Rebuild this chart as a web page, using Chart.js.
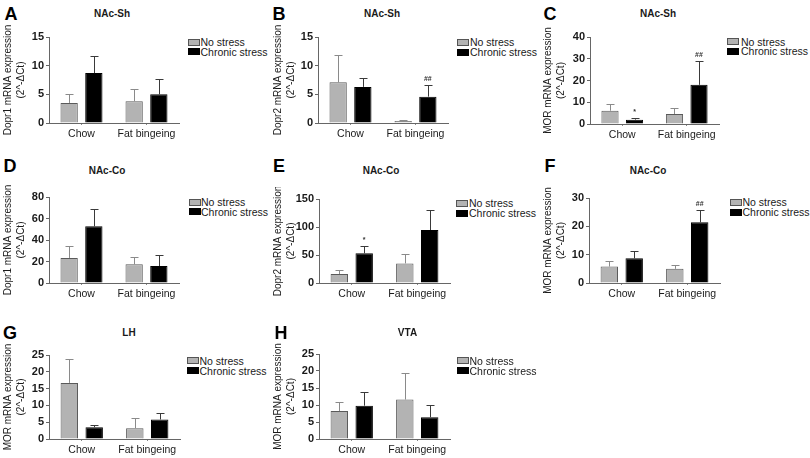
<!DOCTYPE html>
<html>
<head>
<meta charset="utf-8">
<script src="https://cdn.jsdelivr.net/npm/chart.js@4"></script>
<style>
  html, body { margin: 0; padding: 0; background: #fff; }
  #page { position: relative; width: 810px; height: 458px; overflow: hidden; background: #fff; font-family: "Liberation Sans", Arial, sans-serif; color: #1a1a1a; }
  .abs { position: absolute; white-space: nowrap; }
  canvas { display: block; }
</style>
</head>
<body>
<div id="page"></div>
<script>
// ---------- DATA ----------
const categories = ['Chow', 'Fat bingeing'];
const seriesLabels = ['No stress', 'Chronic stress'];
const panelLetters = ['A', 'B', 'C', 'D', 'E', 'F', 'G', 'H'];
const panelTitles = ['NAc-Sh', 'NAc-Sh', 'NAc-Sh', 'NAc-Co', 'NAc-Co', 'NAc-Co', 'LH', 'VTA'];
const yTitles = ['Dopr1 mRNA expression', 'Dopr2 mRNA expression', 'MOR mRNA expression',
                 'Dopr1 mRNA expression', 'Dopr2 mRNA expression', 'MOR mRNA expression',
                 'MOR mRNA expression', 'MOR mRNA expression'];
const yUnit = '(2^-ΔCt)';
const yMax = [15, 15, 40, 80, 150, 30, 25, 25];
const yStep = [5, 5, 10, 20, 50, 10, 5, 5];

// mean values and upper error (SEM) per category [Chow, Fat bingeing]
const aNoStress = [3.5, 3.8];    const aNoStressErr = [1.5, 2.1];
const aChronic  = [8.7, 5.0];    const aChronicErr  = [3.0, 2.7];
const bNoStress = [7.1, 0.35];   const bNoStressErr = [4.7, 0.15];
const bChronic  = [6.3, 4.6];    const bChronicErr  = [1.5, 2.0];
const cNoStress = [6.1, 4.6];    const cNoStressErr = [3.1, 2.8];
const cChronic  = [2.0, 18.0];   const cChronicErr  = [0.8, 11.0];
const dNoStress = [23.3, 17.4];  const dNoStressErr = [11.1, 6.8];
const dChronic  = [52.7, 15.8];  const dChronicErr  = [16.4, 10.6];
const eNoStress = [16, 35];      const eNoStressErr = [6.6, 17.4];
const eChronic  = [53, 94.6];    const eChronicErr  = [13.7, 36.4];
const fNoStress = [5.8, 5.0];    const fNoStressErr = [1.9, 1.5];
const fChronic  = [8.7, 21.4];   const fChronicErr  = [2.6, 4.2];
const gNoStress = [16.7, 3.2];   const gNoStressErr = [7.1, 3.0];
const gChronic  = [3.5, 5.8];    const gChronicErr  = [0.8, 1.8];
const hNoStress = [8.2, 11.6];   const hNoStressErr = [2.7, 7.9];
const hChronic  = [9.8, 6.4];    const hChronicErr  = [4.1, 3.7];

// significance marks per category
const noMarks = ['', ''];
const bChronicMarks = ['', '##'];
const cChronicMarks = ['*', '##'];
const eChronicMarks = ['*', ''];
const fChronicMarks = ['', '##'];

const panelData = [
  [aNoStress, aNoStressErr, noMarks, aChronic, aChronicErr, noMarks],
  [bNoStress, bNoStressErr, noMarks, bChronic, bChronicErr, bChronicMarks],
  [cNoStress, cNoStressErr, noMarks, cChronic, cChronicErr, cChronicMarks],
  [dNoStress, dNoStressErr, noMarks, dChronic, dChronicErr, noMarks],
  [eNoStress, eNoStressErr, noMarks, eChronic, eChronicErr, eChronicMarks],
  [fNoStress, fNoStressErr, noMarks, fChronic, fChronicErr, fChronicMarks],
  [gNoStress, gNoStressErr, noMarks, gChronic, gChronicErr, noMarks],
  [hNoStress, hNoStressErr, noMarks, hChronic, hChronicErr, noMarks]
];

// ---------- LAYOUT (page coordinates) ----------
const layout = [
  {x0: 0,   L: 49,  R: 179, T: 37,  B: 123, letter: [11, 14],    title: [112, 14],  legend: [188, 200.5, 42, 51.7]},
  {x0: 270, L: 318, R: 448, T: 37,  B: 123, letter: [279, 14],   title: [382, 14],  legend: [457, 470, 42.3, 52]},
  {x0: 540, L: 590, R: 719, T: 37,  B: 124, letter: [550, 14],   title: [658, 14],  legend: [727, 741, 41.7, 51]},
  {x0: 0,   L: 49,  R: 179, T: 197, B: 283, letter: [10, 166],   title: [107, 171], legend: [189, 201, 202.3, 211.7]},
  {x0: 270, L: 319, R: 450, T: 199, B: 283, letter: [279, 166],  title: [381, 171], legend: [456, 469, 203.3, 213]},
  {x0: 540, L: 589, R: 720, T: 198, B: 283, letter: [550, 166],  title: [648, 171], legend: [730, 742.5, 202.3, 212]},
  {x0: 0,   L: 49,  R: 180, T: 355, B: 439, letter: [10, 332.5], title: [129, 333], legend: [187, 199.5, 360.7, 370.5]},
  {x0: 270, L: 319, R: 450, T: 354, B: 439, letter: [281, 332.5],title: [407.5, 333],legend: [457, 469.5, 360.7, 370.5]}
];

const FONT = '"Liberation Sans", Arial, Helvetica, sans-serif';
const GRAY = '#b3b3b3';
const page = document.getElementById('page');

function addText(text, x, y, css, align) {
  const d = document.createElement('div');
  d.className = 'abs';
  d.textContent = text;
  d.style.cssText += css;
  d.style.left = x + 'px';
  d.style.top = y + 'px';
  d.style.transform = align === 'left' ? 'translate(0,-50%)' : 'translate(-50%,-50%)';
  page.appendChild(d);
  return d;
}
function addBox(x, y, bg, border) {
  const d = document.createElement('div');
  d.className = 'abs';
  d.style.left = x + 'px';
  d.style.top = (y - 3.5) + 'px';
  d.style.width = '10px';
  d.style.height = '5px';
  d.style.background = bg;
  d.style.border = '1px solid ' + border;
  page.appendChild(d);
}

const errorBarPlugin = {
  id: 'errorBars',
  afterDatasetsDraw(chart) {
    const ctx = chart.ctx;
    const ys = chart.scales.y;
    chart.data.datasets.forEach((ds, di) => {
      const meta = chart.getDatasetMeta(di);
      meta.data.forEach((bar, i) => {
        const topPx = ys.getPixelForValue(ds.data[i] + ds.errors[i]);
        const x = Math.round(bar.x) + 0.5;
        const t = Math.round(topPx) + 0.5;
        ctx.save();
        ctx.strokeStyle = ds.errorColor;
        ctx.lineWidth = 1;
        ctx.beginPath();
        ctx.moveTo(x, bar.y);
        ctx.lineTo(x, t);
        ctx.moveTo(x - 4, t);
        ctx.lineTo(x + 4, t);
        ctx.stroke();
        const mark = ds.marks[i];
        if (mark) {
          ctx.fillStyle = '#333';
          ctx.font = 'bold 7px ' + FONT;
          ctx.textAlign = 'center';
          ctx.textBaseline = 'middle';
          ctx.fillText(mark, bar.x, topPx - 6);
        }
        ctx.restore();
      });
    });
  }
};

layout.forEach((p, k) => {
  const [ns, nsErr, nsMarks, cs, csErr, csMarks] = panelData[k];
  const cx = p.x0, cy = p.T - 12;
  const w = p.R + 6 - cx, h = p.B + 22 - cy;
  const wrap = document.createElement('div');
  wrap.className = 'abs';
  wrap.style.left = cx + 'px';
  wrap.style.top = cy + 'px';
  wrap.style.width = w + 'px';
  wrap.style.height = h + 'px';
  const canvas = document.createElement('canvas');
  canvas.width = w; canvas.height = h;
  canvas.style.width = w + 'px'; canvas.style.height = h + 'px';
  wrap.appendChild(canvas);
  page.appendChild(wrap);

  new Chart(canvas, {
    type: 'bar',
    data: {
      labels: categories,
      datasets: [
        {label: seriesLabels[0], data: ns, errors: nsErr, marks: nsMarks, errorColor: '#8a8a8a',
         backgroundColor: GRAY, borderColor: '#5a5a5a', borderWidth: 1},
        {label: seriesLabels[1], data: cs, errors: csErr, marks: csMarks, errorColor: '#3a3a3a',
         backgroundColor: '#000', borderColor: '#000', borderWidth: 1}
      ]
    },
    options: {
      responsive: false,
      animation: false,
      devicePixelRatio: 1,
      barPercentage: 0.70,
      categoryPercentage: 0.76,
      layout: {padding: {left: 0, top: p.T - cy, right: w - (p.R - cx), bottom: 0}},
      plugins: {legend: {display: false}, tooltip: {enabled: false}, title: {display: false}},
      scales: {
        x: {
          afterFit: s => { s.height = cy + h - p.B; },
          grid: {display: true, drawOnChartArea: false, drawTicks: true, tickLength: 2, offset: false, color: '#888'},
          border: {display: true, color: '#666', width: 1},
          ticks: {font: {family: FONT, size: 10.5}, color: '#1a1a1a', padding: 3, maxRotation: 0}
        },
        y: {
          min: 0, max: yMax[k],
          afterFit: s => { s.width = p.L - cx; },
          grid: {display: true, drawOnChartArea: false, drawTicks: true, tickLength: 3, color: '#666'},
          border: {display: true, color: '#666', width: 1},
          ticks: {stepSize: yStep[k], font: {family: FONT, size: 11, weight: 'bold'}, color: '#1a1a1a', padding: 2},
          title: {display: true, text: [yTitles[k], yUnit], font: {family: FONT, size: 10, lineHeight: 1.3},
                  color: '#1a1a1a', padding: {top: 2, bottom: 0}}
        }
      }
    },
    plugins: [errorBarPlugin]
  });

  // panel letter, title, legend
  addText(panelLetters[k], p.letter[0], p.letter[1], 'font: bold 18px ' + FONT + '; line-height: 18px; color:#000;');
  addText(panelTitles[k], p.title[0], p.title[1], 'font: bold 10px ' + FONT + '; line-height: 10px; color:#1a1a1a;');
  const [bx, tx, y1, y2] = p.legend;
  addBox(bx, y1, GRAY, '#555');
  addBox(bx, y2, '#000', '#000');
  addText(seriesLabels[0], tx, y1, 'font: 10.5px ' + FONT + '; line-height: 11px;', 'left');
  addText(seriesLabels[1], tx, y2, 'font: 10.5px ' + FONT + '; line-height: 11px;', 'left');
});
</script>
</body>
</html>
